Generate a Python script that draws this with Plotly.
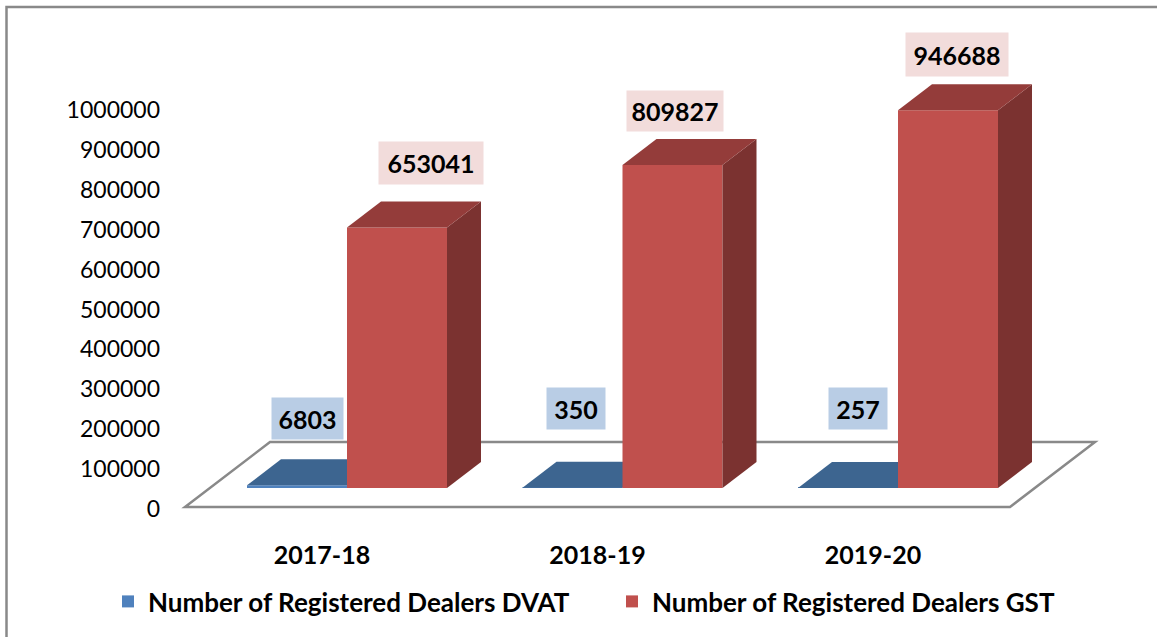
import plotly.graph_objects as go

# ---- data ----
categories = ["2017-18", "2018-19", "2019-20"]
dvat = [6803, 350, 257]
gst = [653041, 809827, 946688]
y_ticks = list(range(0, 1000001, 100000))
series_names = ["Number of Registered Dealers DVAT", "Number of Registered Dealers GST"]

# ---- geometry of the pseudo-3D view, in axis units ----
W, H = 1157, 637
STEP_PX, PX_PER_VALUE = 275.5, 399 / 1e6
PLOT_L, PLOT_B = 161, 530
ZERO_PX, ORIGIN_PX = 507, 347
x_range = [(PLOT_L - ORIGIN_PX) / STEP_PX, (W - ORIGIN_PX) / STEP_PX]
y_range = [(ZERO_PX - PLOT_B) / PX_PER_VALUE, ZERO_PX / PX_PER_VALUE]

BAR_W = 100 / STEP_PX
DEPTH_X = 34 / STEP_PX
DEPTH_Y = 26 / PX_PER_VALUE
FLOOR_BASE = 19 / PX_PER_VALUE
TICK_SHIFT = -25 / STEP_PX
FLOOR_FRONT_L, FLOOR_FRONT_R = (185 - 347) / STEP_PX, (1010 - 347) / STEP_PX
FLOOR_BACK_L, FLOOR_BACK_R = (270 - 347) / STEP_PX, (1095 - 347) / STEP_PX
FLOOR_BACK_Y = 65 / PX_PER_VALUE

positions = list(range(len(categories)))

# colours
BLUE, BLUE_TOP, BLUE_SIDE = "#4F81BD", "#3D6590", "#30506F"
RED, RED_TOP, RED_SIDE = "#C0504D", "#943C3A", "#7B3230"
GREY = "#898989"
FONT = "Lato"

fig = go.Figure()


def faces(values, left_edges, top_col, side_col, xa, ya):
    for v, l in zip(values, left_edges):
        y_top = FLOOR_BASE + v
        r = l + BAR_W
        fig.add_trace(go.Scatter(
            x=[r, r + DEPTH_X, r + DEPTH_X, r, r],
            y=[FLOOR_BASE, FLOOR_BASE + DEPTH_Y, y_top + DEPTH_Y, y_top, FLOOR_BASE],
            fill="toself", fillcolor=side_col, mode="none", showlegend=False,
            hoverinfo="skip", xaxis=xa, yaxis=ya))
        fig.add_trace(go.Scatter(
            x=[l, r, r + DEPTH_X, l + DEPTH_X, l],
            y=[y_top, y_top, y_top + DEPTH_Y, y_top + DEPTH_Y, y_top],
            fill="toself", fillcolor=top_col, mode="none", showlegend=False,
            hoverinfo="skip", xaxis=xa, yaxis=ya))


# DVAT columns on the lower subplot
fig.add_trace(go.Bar(x=[p - BAR_W / 2 for p in positions], y=dvat, base=FLOOR_BASE, width=BAR_W,
                     name=series_names[0], marker=dict(color=BLUE, line=dict(width=0)),
                     xaxis="x", yaxis="y"))
faces(dvat, [p - BAR_W for p in positions], BLUE_TOP, BLUE_SIDE, "x", "y")

# GST columns on the overlaying subplot so they cover the DVAT tops
fig.add_trace(go.Bar(x=[p + BAR_W / 2 for p in positions], y=gst, base=FLOOR_BASE, width=BAR_W,
                     name=series_names[1], marker=dict(color=RED, line=dict(width=0)),
                     xaxis="x2", yaxis="y2"))
faces(gst, positions, RED_TOP, RED_SIDE, "x2", "y2")

# value labels
dvat_label_x = [(307 - 347) / STEP_PX, (576 - 347) / STEP_PX, (858 - 347) / STEP_PX]
dvat_label_y = [(507 - 418) / PX_PER_VALUE, (507 - 408) / PX_PER_VALUE, (507 - 408) / PX_PER_VALUE]
gst_label_x = [(431 - 347) / STEP_PX, (675 - 347) / STEP_PX, (957 - 347) / STEP_PX]
gst_label_lift = [64 / PX_PER_VALUE, 54 / PX_PER_VALUE, 55.5 / PX_PER_VALUE]
dvat_box_w = [71, 58, 58]
gst_box_w = [104, 96, 102]
gst_box_h = [42, 40, 43]
annotations = []
for v, x, y, w in zip(dvat, dvat_label_x, dvat_label_y, dvat_box_w):
    annotations.append(dict(x=x, y=y, xref="x", yref="y", text=f"<b>{v}</b>", showarrow=False,
                            bgcolor="#B9CDE5", width=w, height=41, borderpad=0,
                            font=dict(family=FONT, size=25, color="black")))
for v, x, lift, w, h in zip(gst, gst_label_x, gst_label_lift, gst_box_w, gst_box_h):
    annotations.append(dict(x=x, y=FLOOR_BASE + v + lift, xref="x", yref="y", text=f"<b>{v}</b>",
                            showarrow=False, bgcolor="#F2DCDB", width=w, height=h, borderpad=0,
                            font=dict(family=FONT, size=25, color="black")))

plot_w = W - PLOT_L
fig.update_layout(
    width=W, height=H, autosize=False,
    margin=dict(l=PLOT_L, r=0, t=0, b=H - PLOT_B, pad=0),
    paper_bgcolor="white", plot_bgcolor="rgba(0,0,0,0)",
    barmode="overlay", hovermode=False,
    font=dict(family=FONT, color="black"),
    annotations=annotations,
    xaxis=dict(range=x_range, tickmode="array",
               tickvals=[p + TICK_SHIFT for p in positions], ticktext=categories,
               tickfont=dict(family=FONT, size=25, weight="bold", color="black"),
               showgrid=False, zeroline=False, showline=False,
               ticks="outside", ticklen=3, tickcolor="rgba(0,0,0,0)"),
    yaxis=dict(range=y_range, tickmode="array", tickvals=y_ticks,
               ticktext=[str(t) for t in y_ticks],
               tickfont=dict(family=FONT, size=23, color="black"),
               ticklabelshift=2,
               showgrid=False, zeroline=False, showline=False, ticks=""),
    xaxis2=dict(range=x_range, overlaying="x", visible=False),
    yaxis2=dict(range=y_range, overlaying="y", visible=False),
    legend=dict(orientation="h", x=(108 - PLOT_L) / plot_w, xanchor="left",
                y=(PLOT_B - 578) / PLOT_B, yanchor="top",
                font=dict(family=FONT, size=26, weight="bold", color="black"),
                entrywidth=459, entrywidthmode="pixels", traceorder="normal",
                bgcolor="rgba(0,0,0,0)"),
    shapes=[
        dict(type="path", xref="x", yref="y", layer="below",
             path=f"M{FLOOR_FRONT_L},0 L{FLOOR_FRONT_R},0 L{FLOOR_BACK_R},{FLOOR_BACK_Y} L{FLOOR_BACK_L},{FLOOR_BACK_Y} Z",
             fillcolor="white", line=dict(color=GREY, width=2.5)),
        dict(type="rect", xref="paper", yref="paper", layer="below",
             x0=(6.5 - PLOT_L) / plot_w, x1=(W + 20 - PLOT_L) / plot_w,
             y0=(PLOT_B - H - 20) / PLOT_B, y1=(PLOT_B - 7) / PLOT_B,
             fillcolor="rgba(0,0,0,0)", line=dict(color=GREY, width=2.5)),
    ],
)

fig.write_html("out.html", config={"displayModeBar": False},
               post_script="document.body.style.margin='0';document.body.style.overflow='hidden';")
